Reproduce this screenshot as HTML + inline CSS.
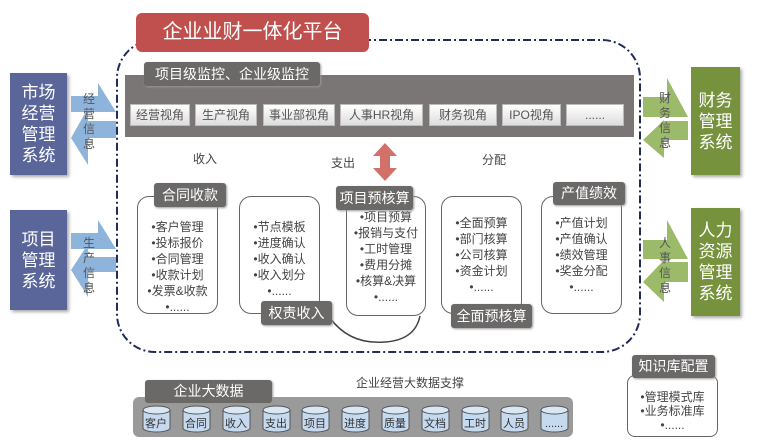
<!DOCTYPE html>
<html><head><meta charset="utf-8"><style>
body{margin:0;width:762px;height:446px;background:#fff;position:relative;overflow:hidden;font-family:"Liberation Sans","Noto Sans CJK SC",sans-serif;}
.a{position:absolute;box-sizing:border-box;}
.tab{position:absolute;background:#6b6868;color:#fff;border-radius:3px;text-align:center;box-shadow:1px 1px 2px #999;}
.btn{position:absolute;top:104px;height:22px;background:linear-gradient(#fff,#ddd);border:1px solid #bbb;font-size:12px;color:#555;text-align:center;line-height:20px;box-sizing:border-box;}
.box{position:absolute;border:1.3px solid #666;border-radius:12px;background:#fff;font-size:12px;color:#444;text-align:center;line-height:16px;box-sizing:border-box;}
.sys{position:absolute;color:#fff;font-size:17px;line-height:21px;text-align:center;display:flex;align-items:center;justify-content:center;box-shadow:2px 2px 3px #aaa;}
.cyl{position:absolute;top:406px;width:27px;height:27px;}
</style></head><body>
<svg class="a" style="left:0;top:0" width="762" height="446">
<rect x="117" y="40" width="523" height="312" rx="38" fill="none" stroke="#1f2d5a" stroke-width="2" stroke-dasharray="8,3,2,3"/>
<!-- left arrows -->
<polygon points="71,96 98,96 98,83 116,112 71,112" fill="#8fb4dc"/>
<polygon points="116,121 88,121 88,108 71,138 88,165 88,138 116,138" fill="#8fb4dc"/>
<polygon points="71,233 98,233 98,220 116,249 71,249" fill="#8fb4dc"/>
<polygon points="116,257 88,257 88,244 71,270 88,297 88,272 116,272" fill="#8fb4dc"/>
<!-- right arrows -->
<polygon points="643,97 667,97 667,78 688,117 643,117" fill="#9bbb6a"/>
<polygon points="688,121 664,121 664,120 643,140 664,158 664,140 688,140" fill="#9bbb6a"/>
<polygon points="643,240 667,240 667,220 688,259 643,259" fill="#9bbb6a"/>
<polygon points="688,262 664,262 664,260 643,282 664,302 664,282 688,282" fill="#9bbb6a"/>
<!-- red double arrow -->
<polygon points="385,143 397,156 390,156 390,168 397,168 385,181 373,168 380,168 380,156 373,156" fill="#d2706a"/>
<!-- curve -->
<path d="M330,318 Q350,345 385,342 Q415,340 420,316" fill="none" stroke="#444" stroke-width="1.5"/>
<!-- bottom bar -->
<rect x="133" y="397" width="440" height="40" rx="6" fill="#9a9a9a"/>
</svg>
<div class="a" style="left:136px;top:13px;width:233px;height:39px;background:#c0504d;border-radius:6px;color:#fff;font-size:20px;line-height:39px;text-align:center;">企业业财一体化平台</div>
<div class="a" style="left:125px;top:75px;width:509px;height:62px;background:#7b7676;"></div>
<div class="tab" style="left:144px;top:62px;width:176px;height:24px;font-size:14px;line-height:24px;">项目级监控、企业级监控</div>
<div class="btn" style="left:130px;width:60px">经营视角</div>
<div class="btn" style="left:195px;width:62px">生产视角</div>
<div class="btn" style="left:263px;width:72px">事业部视角</div>
<div class="btn" style="left:340px;width:83px">人事HR视角</div>
<div class="btn" style="left:429px;width:68px">财务视角</div>
<div class="btn" style="left:502px;width:59px">IPO视角</div>
<div class="btn" style="left:566px;width:58px">......</div>
<div class="a" style="left:193px;top:150px;font-size:12px;color:#444">收入</div>
<div class="a" style="left:331px;top:154px;font-size:12px;color:#444">支出</div>
<div class="a" style="left:482px;top:151px;font-size:12px;color:#444">分配</div>

<div class="box" style="left:137px;top:196px;width:81px;height:118px;padding-top:22px">•客户管理<br>•投标报价<br>•合同管理<br>•收款计划<br>•发票&amp;收款<br>•......</div>
<div class="tab" style="left:154px;top:183px;width:72px;height:24px;font-size:14px;line-height:24px">合同收款</div>
<div class="box" style="left:239px;top:196px;width:81px;height:118px;padding-top:22px">•节点模板<br>•进度确认<br>•收入确认<br>•收入划分<br>•......</div>
<div class="tab" style="left:261px;top:301px;width:71px;height:24px;font-size:14px;line-height:24px">权责收入</div>
<div class="box" style="left:346px;top:196px;width:80px;height:120px;padding-top:12px">•项目预算<br>•报销与支付<br>•工时管理<br>•费用分摊<br>•核算&amp;决算<br>•......</div>
<div class="tab" style="left:336px;top:186px;width:77px;height:24px;font-size:14px;line-height:24px">项目预核算</div>
<div class="box" style="left:441px;top:196px;width:81px;height:118px;padding-top:18px">•全面预算<br>•部门核算<br>•公司核算<br>•资金计划<br>•......</div>
<div class="tab" style="left:451px;top:304px;width:81px;height:24px;font-size:14px;line-height:24px">全面预核算</div>
<div class="box" style="left:541px;top:196px;width:81px;height:118px;padding-top:18px">•产值计划<br>•产值确认<br>•绩效管理<br>•奖金分配<br>•......</div>
<div class="tab" style="left:553px;top:182px;width:72px;height:23px;font-size:14px;line-height:23px">产值绩效</div>

<div class="sys" style="left:10px;top:73px;width:57px;height:102px;background:#5a6699">市场<br>经营<br>管理<br>系统</div>
<div class="sys" style="left:10px;top:210px;width:57px;height:100px;background:#5a6699">项目<br>管理<br>系统</div>
<div class="sys" style="left:691px;top:67px;width:49px;height:108px;background:#76923c">财务<br>管理<br>系统</div>
<div class="sys" style="left:691px;top:208px;width:49px;height:108px;background:#76923c">人力<br>资源<br>管理<br>系统</div>
<div class="a" style="left:83px;top:92px;font-size:12px;line-height:15px;color:#555;width:14px">经营信息</div>
<div class="a" style="left:83px;top:236px;font-size:12px;line-height:15px;color:#555;width:14px">生产信息</div>
<div class="a" style="left:659px;top:91px;font-size:12px;line-height:15px;color:#555;width:14px">财务信息</div>
<div class="a" style="left:659px;top:236px;font-size:12px;line-height:15px;color:#555;width:14px">人事信息</div>

<div class="tab" style="left:145px;top:380px;width:127px;height:23px;font-size:14px;line-height:23px">企业大数据</div>
<div class="a" style="left:356px;top:374px;font-size:12px;color:#444">企业经营大数据支撑</div>
<svg class="a" style="left:0;top:0" width="762" height="446">
<g font-size="11" fill="#333" text-anchor="middle" font-family="Liberation Sans,Noto Sans CJK SC,sans-serif">
<g id="c"></g>
</g>
</svg>
<svg class="a" style="left:0;top:0" width="762" height="446" font-family="Liberation Sans,Noto Sans CJK SC,sans-serif">
<defs><g id="cy"><path d="M0,4 v18 a13.5,4 0 0 0 27,0 v-18" fill="#c5d9ef" stroke="#555"/><ellipse cx="13.5" cy="4" rx="13.5" ry="4" fill="#d9e6f4" stroke="#555"/></g></defs>
<use href="#cy" x="143" y="406"/><use href="#cy" x="183" y="406"/><use href="#cy" x="223" y="406"/><use href="#cy" x="263" y="406"/><use href="#cy" x="302" y="406"/><use href="#cy" x="342" y="406"/><use href="#cy" x="382" y="406"/><use href="#cy" x="422" y="406"/><use href="#cy" x="462" y="406"/><use href="#cy" x="501" y="406"/><use href="#cy" x="541" y="406"/>
<g font-size="11" fill="#333" text-anchor="middle">
<text x="156" y="427">客户</text><text x="196" y="427">合同</text><text x="236" y="427">收入</text><text x="276" y="427">支出</text><text x="315" y="427">项目</text><text x="355" y="427">进度</text><text x="395" y="427">质量</text><text x="435" y="427">文档</text><text x="475" y="427">工时</text><text x="514" y="427">人员</text><text x="554" y="427">......</text>
</g></svg>
<div class="box" style="left:627px;top:375px;width:91px;height:62px;border-radius:8px;padding-top:14px;line-height:14px">•管理模式库<br>•业务标准库<br>•......</div>
<div class="tab" style="left:632px;top:355px;width:83px;height:23px;font-size:14px;line-height:23px">知识库配置</div>
</body></html>
